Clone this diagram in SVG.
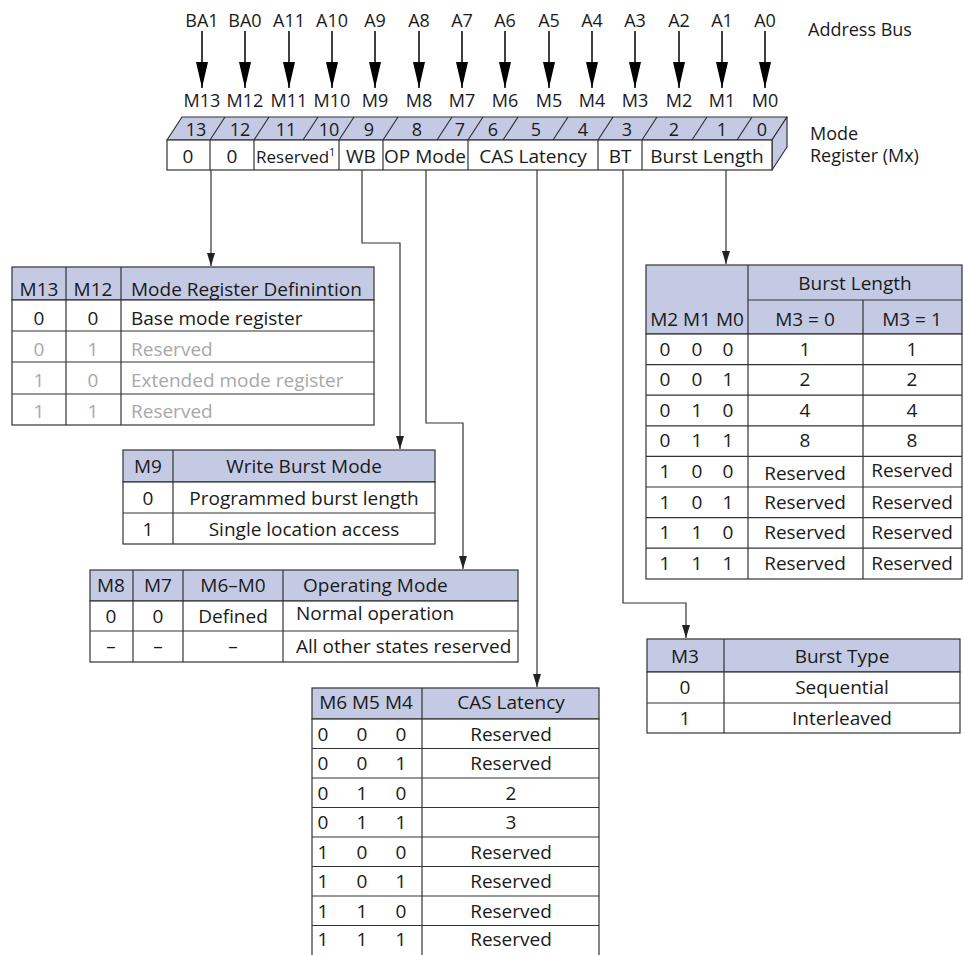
<svg xmlns="http://www.w3.org/2000/svg" width="964" height="955" viewBox="0 0 964 955">
<style>
text{font-family:"Open Sans","DejaVu Sans",sans-serif;font-size:19px;fill:#1a1a1a}
.top text{font-size:18px}
.c{text-anchor:middle}
.g{fill:#a8a8a8}
.hd{fill:#c4cae4;stroke:#333;stroke-width:1.2}
.cell{fill:#fff;stroke:#333;stroke-width:1.2}
.ln{stroke:#333;stroke-width:1.2;fill:none}
.bus{stroke:#000;stroke-width:1.5;fill:none}
.cn{stroke:#333;stroke-width:1.2;fill:none}
.reg{fill:#c4cae4;stroke:#333;stroke-width:1.2;stroke-linejoin:round}
</style>
<defs>
<marker id="busArrow" markerUnits="userSpaceOnUse" markerWidth="26" markerHeight="12" viewBox="0 0 26 12" refX="26" refY="6" orient="auto"><path d="M0,0 L26,6 L0,12 z" fill="#000"/></marker>
<marker id="cnArrow" markerUnits="userSpaceOnUse" markerWidth="13" markerHeight="8" viewBox="0 0 13 8" refX="13" refY="4" orient="auto"><path d="M0,0 L13,4 L0,8 z" fill="#222"/></marker>
</defs>

<g id="address-bus" class="top">
<text class="c" x="202" y="27">BA1</text>
<text class="c" x="245" y="27">BA0</text>
<text class="c" x="289" y="27">A11</text>
<text class="c" x="332" y="27">A10</text>
<text class="c" x="375" y="27">A9</text>
<text class="c" x="419" y="27">A8</text>
<text class="c" x="462" y="27">A7</text>
<text class="c" x="505" y="27">A6</text>
<text class="c" x="549" y="27">A5</text>
<text class="c" x="592" y="27">A4</text>
<text class="c" x="635" y="27">A3</text>
<text class="c" x="679" y="27">A2</text>
<text class="c" x="722" y="27">A1</text>
<text class="c" x="765" y="27">A0</text>
<text x="808" y="36">Address Bus</text>
<g marker-end="url(#busArrow)" class="bus">
<line x1="202" y1="31" x2="202" y2="88"/>
<line x1="245" y1="31" x2="245" y2="88"/>
<line x1="289" y1="31" x2="289" y2="88"/>
<line x1="332" y1="31" x2="332" y2="88"/>
<line x1="375" y1="31" x2="375" y2="88"/>
<line x1="419" y1="31" x2="419" y2="88"/>
<line x1="462" y1="31" x2="462" y2="88"/>
<line x1="505" y1="31" x2="505" y2="88"/>
<line x1="549" y1="31" x2="549" y2="88"/>
<line x1="592" y1="31" x2="592" y2="88"/>
<line x1="635" y1="31" x2="635" y2="88"/>
<line x1="679" y1="31" x2="679" y2="88"/>
<line x1="722" y1="31" x2="722" y2="88"/>
<line x1="765" y1="31" x2="765" y2="88"/>
</g>
<text class="c" x="202" y="107">M13</text>
<text class="c" x="245" y="107">M12</text>
<text class="c" x="289" y="107">M11</text>
<text class="c" x="332" y="107">M10</text>
<text class="c" x="375" y="107">M9</text>
<text class="c" x="419" y="107">M8</text>
<text class="c" x="462" y="107">M7</text>
<text class="c" x="505" y="107">M6</text>
<text class="c" x="549" y="107">M5</text>
<text class="c" x="592" y="107">M4</text>
<text class="c" x="635" y="107">M3</text>
<text class="c" x="679" y="107">M2</text>
<text class="c" x="722" y="107">M1</text>
<text class="c" x="765" y="107">M0</text>
</g>

<g id="mode-register" class="top">
<polygon class="reg" points="167,140 182,117 787,117 772,140"/>
<polygon class="reg" points="772,140 787,117 787,147 772,170"/>
<rect class="cell" x="167" y="140" width="605" height="30"/>
<g class="ln">
<line x1="210" y1="140" x2="225" y2="117"/>
<line x1="254" y1="140" x2="269" y2="117"/>
<line x1="303" y1="140" x2="318" y2="117"/>
<line x1="339" y1="140" x2="354" y2="117"/>
<line x1="383" y1="140" x2="398" y2="117"/>
<line x1="437" y1="140" x2="452" y2="117"/>
<line x1="468" y1="140" x2="483" y2="117"/>
<line x1="503" y1="140" x2="518" y2="117"/>
<line x1="553" y1="140" x2="568" y2="117"/>
<line x1="598" y1="140" x2="613" y2="117"/>
<line x1="642" y1="140" x2="657" y2="117"/>
<line x1="692" y1="140" x2="707" y2="117"/>
<line x1="737" y1="140" x2="752" y2="117"/>
<line x1="210" y1="140" x2="210" y2="170"/>
<line x1="254" y1="140" x2="254" y2="170"/>
<line x1="339" y1="140" x2="339" y2="170"/>
<line x1="383" y1="140" x2="383" y2="170"/>
<line x1="468" y1="140" x2="468" y2="170"/>
<line x1="598" y1="140" x2="598" y2="170"/>
<line x1="642" y1="140" x2="642" y2="170"/>
</g>
<text class="c" x="196" y="136">13</text>
<text class="c" x="240" y="136">12</text>
<text class="c" x="286" y="136">11</text>
<text class="c" x="329" y="136">10</text>
<text class="c" x="369" y="136">9</text>
<text class="c" x="417" y="136">8</text>
<text class="c" x="460" y="136">7</text>
<text class="c" x="493" y="136">6</text>
<text class="c" x="536" y="136">5</text>
<text class="c" x="583" y="136">4</text>
<text class="c" x="627" y="136">3</text>
<text class="c" x="674" y="136">2</text>
<text class="c" x="722" y="136">1</text>
<text class="c" x="762" y="136">0</text>
<text class="c" x="188" y="163" style="font-size:19px">0</text>
<text class="c" x="232" y="163" style="font-size:19px">0</text>
<text x="256" y="163" style="font-size:17px">Reserved<tspan dy="-7" style="font-size:11px">1</tspan></text>
<text class="c" x="361" y="163" style="font-size:19px">WB</text>
<text class="c" x="425" y="163" style="font-size:19px">OP Mode</text>
<text class="c" x="533" y="163" style="font-size:19px">CAS Latency</text>
<text class="c" x="620" y="163" style="font-size:19px">BT</text>
<text class="c" x="707" y="163" style="font-size:19px">Burst Length</text>
<text x="810" y="140">Mode</text>
<text x="810" y="162">Register (Mx)</text>
</g>

<g id="connectors" class="cn" marker-end="url(#cnArrow)">
<path d="M211,170 V266"/>
<path d="M362,170 V243 H400 V449"/>
<path d="M426,170 V423 H463 V569"/>
<path d="M537,170 V687"/>
<path d="M623,170 V603 H686 V638"/>
<path d="M726,170 V264"/>
</g>

<g id="table-mode-register-definition">
<rect class="hd" x="12" y="267" width="362" height="33"/>
<rect class="cell" x="12" y="300" width="362" height="125"/>
<g class="ln">
<line x1="12" y1="331" x2="374" y2="331"/>
<line x1="12" y1="362" x2="374" y2="362"/>
<line x1="12" y1="394" x2="374" y2="394"/>
<line x1="66" y1="267" x2="66" y2="425"/>
<line x1="121" y1="267" x2="121" y2="425"/>
</g>
<text class="c" x="39" y="296">M13</text>
<text class="c" x="93" y="296">M12</text>
<text x="131" y="296">Mode Register Definintion</text>
<text class="c" x="39" y="325">0</text>
<text class="c" x="93" y="325">0</text>
<text x="131" y="325">Base mode register</text>
<text class="c g" x="39" y="356">0</text>
<text class="c g" x="93" y="356">1</text>
<text class="g" x="131" y="356">Reserved</text>
<text class="c g" x="39" y="387">1</text>
<text class="c g" x="93" y="387">0</text>
<text class="g" x="131" y="387">Extended mode register</text>
<text class="c g" x="39" y="418">1</text>
<text class="c g" x="93" y="418">1</text>
<text class="g" x="131" y="418">Reserved</text>
</g>

<g id="table-write-burst-mode">
<rect class="hd" x="123" y="450" width="312" height="32"/>
<rect class="cell" x="123" y="482" width="312" height="62"/>
<g class="ln">
<line x1="123" y1="513" x2="435" y2="513"/>
<line x1="173" y1="450" x2="173" y2="544"/>
</g>
<text class="c" x="148" y="473">M9</text>
<text class="c" x="304" y="473">Write Burst Mode</text>
<text class="c" x="148" y="505">0</text>
<text class="c" x="304" y="505">Programmed burst length</text>
<text class="c" x="148" y="536">1</text>
<text class="c" x="304" y="536">Single location access</text>
</g>

<g id="table-operating-mode">
<rect class="hd" x="90" y="570" width="428" height="31"/>
<rect class="cell" x="90" y="601" width="428" height="61"/>
<g class="ln">
<line x1="90" y1="631" x2="518" y2="631"/>
<line x1="133" y1="570" x2="133" y2="662"/>
<line x1="183" y1="570" x2="183" y2="662"/>
<line x1="283" y1="570" x2="283" y2="662"/>
</g>
<text class="c" x="111" y="592">M8</text>
<text class="c" x="158" y="592">M7</text>
<text class="c" x="233" y="592">M6–M0</text>
<text x="303" y="592">Operating Mode</text>
<text class="c" x="111" y="623">0</text>
<text class="c" x="158" y="623">0</text>
<text class="c" x="233" y="623">Defined</text>
<text x="296" y="620">Normal operation</text>
<text class="c" x="111" y="653">–</text>
<text class="c" x="158" y="653">–</text>
<text class="c" x="233" y="653">–</text>
<text x="296" y="653">All other states reserved</text>
</g>

<g id="table-cas-latency">
<rect class="hd" x="312" y="688" width="287" height="31"/>
<rect class="cell" x="312" y="719" width="287" height="242"/>
<g class="ln">
<line x1="312" y1="748.5" x2="599" y2="748.5"/>
<line x1="312" y1="778" x2="599" y2="778"/>
<line x1="312" y1="807.5" x2="599" y2="807.5"/>
<line x1="312" y1="837" x2="599" y2="837"/>
<line x1="312" y1="866.5" x2="599" y2="866.5"/>
<line x1="312" y1="896" x2="599" y2="896"/>
<line x1="312" y1="925.5" x2="599" y2="925.5"/>
<line x1="422" y1="688" x2="422" y2="961"/>
</g>
<text class="c" x="366" y="709">M6 M5 M4</text>
<text class="c" x="511" y="709">CAS Latency</text>
<text class="c" x="323" y="741">0</text><text class="c" x="362" y="741">0</text><text class="c" x="401" y="741">0</text><text class="c" x="511" y="741">Reserved</text>
<text class="c" x="323" y="770">0</text><text class="c" x="362" y="770">0</text><text class="c" x="401" y="770">1</text><text class="c" x="511" y="770">Reserved</text>
<text class="c" x="323" y="800">0</text><text class="c" x="362" y="800">1</text><text class="c" x="401" y="800">0</text><text class="c" x="511" y="800">2</text>
<text class="c" x="323" y="829">0</text><text class="c" x="362" y="829">1</text><text class="c" x="401" y="829">1</text><text class="c" x="511" y="829">3</text>
<text class="c" x="323" y="859">1</text><text class="c" x="362" y="859">0</text><text class="c" x="401" y="859">0</text><text class="c" x="511" y="859">Reserved</text>
<text class="c" x="323" y="888">1</text><text class="c" x="362" y="888">0</text><text class="c" x="401" y="888">1</text><text class="c" x="511" y="888">Reserved</text>
<text class="c" x="323" y="918">1</text><text class="c" x="362" y="918">1</text><text class="c" x="401" y="918">0</text><text class="c" x="511" y="918">Reserved</text>
<text class="c" x="323" y="946">1</text><text class="c" x="362" y="946">1</text><text class="c" x="401" y="946">1</text><text class="c" x="511" y="946">Reserved</text>
</g>

<g id="table-burst-length">
<rect class="hd" x="646" y="265" width="316" height="69"/>
<rect class="cell" x="646" y="334" width="316" height="245"/>
<g class="ln">
<line x1="748" y1="300" x2="962" y2="300"/>
<line x1="646" y1="364.6" x2="962" y2="364.6"/>
<line x1="646" y1="395.2" x2="962" y2="395.2"/>
<line x1="646" y1="425.8" x2="962" y2="425.8"/>
<line x1="646" y1="456.4" x2="962" y2="456.4"/>
<line x1="646" y1="487" x2="962" y2="487"/>
<line x1="646" y1="517.6" x2="962" y2="517.6"/>
<line x1="646" y1="548.2" x2="962" y2="548.2"/>
<line x1="748" y1="265" x2="748" y2="579"/>
<line x1="863" y1="300" x2="863" y2="579"/>
</g>
<text class="c" x="855" y="290">Burst Length</text>
<text class="c" x="697" y="326">M2 M1 M0</text>
<text class="c" x="805" y="326">M3 = 0</text>
<text class="c" x="912" y="326">M3 = 1</text>
<text class="c" x="665" y="356">0</text><text class="c" x="697" y="356">0</text><text class="c" x="728" y="356">0</text><text class="c" x="805" y="356">1</text><text class="c" x="912" y="356">1</text>
<text class="c" x="665" y="386">0</text><text class="c" x="697" y="386">0</text><text class="c" x="728" y="386">1</text><text class="c" x="805" y="386">2</text><text class="c" x="912" y="386">2</text>
<text class="c" x="665" y="417">0</text><text class="c" x="697" y="417">1</text><text class="c" x="728" y="417">0</text><text class="c" x="805" y="417">4</text><text class="c" x="912" y="417">4</text>
<text class="c" x="665" y="447">0</text><text class="c" x="697" y="447">1</text><text class="c" x="728" y="447">1</text><text class="c" x="805" y="447">8</text><text class="c" x="912" y="447">8</text>
<text class="c" x="665" y="478">1</text><text class="c" x="697" y="478">0</text><text class="c" x="728" y="478">0</text><text class="c" x="805" y="480">Reserved</text><text class="c" x="912" y="477">Reserved</text>
<text class="c" x="665" y="509">1</text><text class="c" x="697" y="509">0</text><text class="c" x="728" y="509">1</text><text class="c" x="805" y="509">Reserved</text><text class="c" x="912" y="509">Reserved</text>
<text class="c" x="665" y="539">1</text><text class="c" x="697" y="539">1</text><text class="c" x="728" y="539">0</text><text class="c" x="805" y="539">Reserved</text><text class="c" x="912" y="539">Reserved</text>
<text class="c" x="665" y="570">1</text><text class="c" x="697" y="570">1</text><text class="c" x="728" y="570">1</text><text class="c" x="805" y="570">Reserved</text><text class="c" x="912" y="570">Reserved</text>
</g>

<g id="table-burst-type">
<rect class="hd" x="647" y="639" width="313" height="33"/>
<rect class="cell" x="647" y="672" width="313" height="61"/>
<g class="ln">
<line x1="647" y1="703" x2="960" y2="703"/>
<line x1="724" y1="639" x2="724" y2="733"/>
</g>
<text class="c" x="685" y="663">M3</text>
<text class="c" x="842" y="663">Burst Type</text>
<text class="c" x="685" y="694">0</text>
<text class="c" x="842" y="694">Sequential</text>
<text class="c" x="685" y="725">1</text>
<text class="c" x="842" y="725">Interleaved</text>
</g>
</svg>
